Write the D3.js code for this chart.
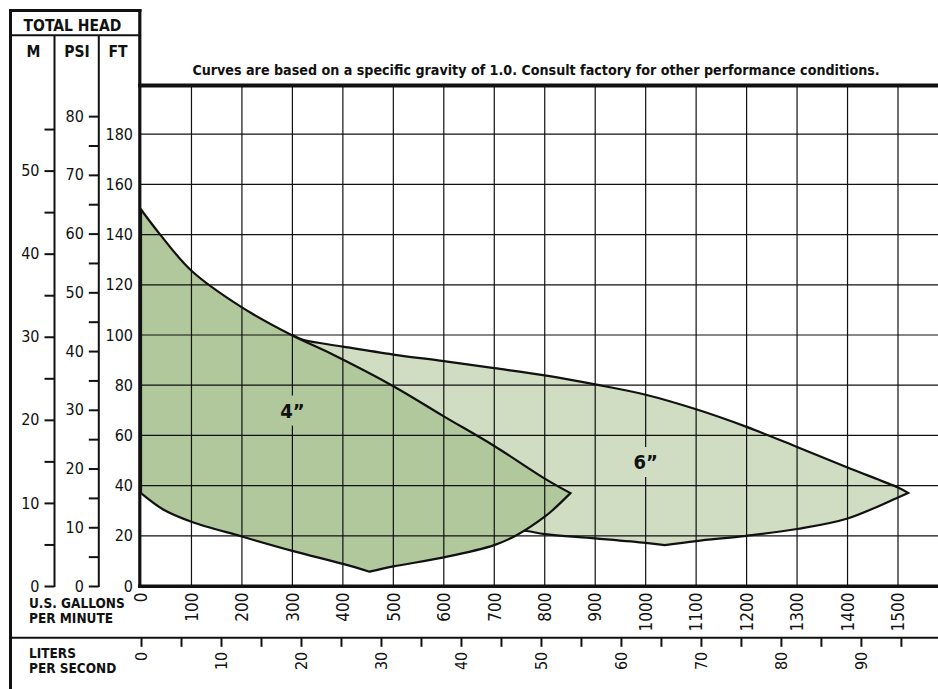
<!DOCTYPE html>
<html lang="en">
<head>
<meta charset="utf-8">
<title>Pump Performance Curves</title>
<style type="text/css">
    body {
        margin: 0;
        background: #fff;
    }
    svg {
        display: block;
    }
    text {
        font-family: 'Liberation Sans Narrow', 'DejaVu Sans';
        font-stretch: condensed;
        fill: #111;
    }
</style>
<script type="text/javascript" src="https://cdn.jsdelivr.net/npm/d3@7"></script>
</head>
<body>
<script type="text/javascript">
    /* DATA */

    var gpmTicks = [0, 100, 200, 300, 400, 500, 600, 700, 800, 900, 1000, 1100, 1200, 1300, 1400, 1500];
    var lpsTicks = [0, 5, 10, 15, 20, 25, 30, 35, 40, 45, 50, 55, 60, 65, 70, 75, 80, 85, 90, 95];
    var ftTicks = [0, 20, 40, 60, 80, 100, 120, 140, 160, 180];
    var psiTicks = [0, 5, 10, 15, 20, 25, 30, 35, 40, 45, 50, 55, 60, 65, 70, 75, 80];
    var mTicks = [0, 5, 10, 15, 20, 25, 30, 35, 40, 45, 50, 55];

    // 4" pump: [gpm, ft]
    var curve4Upper = [[0, 150], [38, 140], [100, 125.6], [200, 111], [300, 99.8],
        [374, 92.8], [500, 79.6], [600, 67.6], [700, 55.8], [800, 42.8], [851, 37]];
    var curve4LowerRight = [[851, 37], [820, 31], [800, 27.6], [745, 20.3], [700, 16.3], [600, 11.4],
        [500, 7.8], [453, 5.7]];
    var curve4LowerLeft = [[453, 5.7], [400, 8.8], [300, 14], [200, 19.7], [100, 25.6], [44, 30.5], [0, 37]];

    // 6" pump: [gpm, ft]
    var curve6Upper = [[300, 100], [321, 98.1], [400, 95.4], [500, 92.2], [600, 89.6], [700, 86.8],
        [800, 83.9], [900, 80.3], [1000, 76.2], [1100, 70.4], [1200, 63.4], [1300, 55.4],
        [1400, 47.2], [1500, 39.2], [1520, 37.1]];
    var curve6LowerRight = [[1520, 37.1], [1500, 35.3], [1400, 26.9], [1300, 22.7], [1200, 20],
        [1100, 17.9], [1038, 16.3]];
    var curve6LowerLeft = [[1038, 16.3], [1000, 17.2], [900, 19], [800, 20.7], [764, 21.9], [700, 23]];
    var curve6Hidden = [[700, 23], [400, 50], [300, 100]];

    var sizeNames = ["4\u201D", "6\u201D"];

    /* SETUP */

    var W = 938;
    var H = 689;
    var svg = d3.select("body").append("svg")
        .attr("width", W)
        .attr("height", H);

    var FT_PER_PSI = 2.34;
    var FT_PER_M = 3.31;
    var GPM_PER_LPS = 15.85;

    var x = d3.scaleLinear().domain([0, 1500]).range([141, 898]);
    var y = d3.scaleLinear().domain([0, 200]).range([586, 84]);
    var yPsi = d3.scaleLinear().domain([0, 80]).range([y(0), y(80 * FT_PER_PSI)]);
    var yM = d3.scaleLinear().domain([0, 50]).range([y(0), y(50 * FT_PER_M)]);
    var xL = d3.scaleLinear().domain([0, 90]).range([x(0), x(90 * GPM_PER_LPS)]);

    var plotTop = 85.5;
    var dark = "#b0c89b";
    var light = "#d0ddc2";

    function regionPath(pieces, close) {
        var line = d3.line()
            .x(function (d) { return x(d[0]); })
            .y(function (d) { return y(d[1]); })
            .curve(d3.curveCatmullRom.alpha(0.5));
        return pieces.map(function (p, i) {
            var s = line(p);
            return i ? "L" + s.slice(1) : s;
        }).join("") + (close ? "Z" : "");
    }

    /* CURVES */

    svg.append("path")
        .attr("d", regionPath([curve6Upper, curve6LowerRight, curve6LowerLeft, curve6Hidden], true))
        .attr("fill", light);
    svg.append("path")
        .attr("d", regionPath([curve6Upper, curve6LowerRight, curve6LowerLeft], false))
        .attr("fill", "none")
        .attr("stroke", "#111")
        .attr("stroke-width", 2.2)
        .attr("stroke-linejoin", "miter");

    svg.append("path")
        .attr("d", regionPath([curve4Upper, curve4LowerRight, curve4LowerLeft], true))
        .attr("fill", dark)
        .attr("stroke", "#111")
        .attr("stroke-width", 2.2)
        .attr("stroke-linejoin", "miter");

    /* GRID */

    svg.append("g").selectAll("line")
        .data(gpmTicks.filter(function (d) { return d > 0; }))
        .join("line")
        .attr("x1", function (d) { return x(d); })
        .attr("x2", function (d) { return x(d); })
        .attr("y1", y(0))
        .attr("y2", plotTop)
        .attr("stroke", "#111")
        .attr("stroke-width", 1.2);

    svg.append("g").selectAll("line")
        .data(ftTicks.filter(function (d) { return d > 0; }))
        .join("line")
        .attr("x1", x(0))
        .attr("x2", W)
        .attr("y1", function (d) { return y(d); })
        .attr("y2", function (d) { return y(d); })
        .attr("stroke", "#111")
        .attr("stroke-width", 1.2);

    /* SIZE LABELS */

    var labelPos = [[300, 69.9], [1000, 49.4]];
    var labelFill = [dark, light];
    sizeNames.forEach(function (name, i) {
        var cx = x(labelPos[i][0]);
        var cy = y(labelPos[i][1]);
        svg.append("rect")
            .attr("x", cx - 10)
            .attr("y", cy - 15)
            .attr("width", 20)
            .attr("height", 30)
            .attr("fill", labelFill[i]);
        svg.append("text")
            .text(name)
            .attr("x", cx)
            .attr("y", cy)
            .attr("dy", "0.36em")
            .attr("text-anchor", "middle")
            .attr("font-size", 20)
            .attr("font-weight", "bold");
    });

    /* FRAME */

    function rule(x1, y1, x2, y2, w) {
        svg.append("line")
            .attr("x1", x1).attr("y1", y1)
            .attr("x2", x2).attr("y2", y2)
            .attr("stroke", "#111")
            .attr("stroke-width", w);
    }

    rule(10.5, 9, 10.5, H, 3);          // outer left
    rule(9, 10.5, 141.5, 10.5, 3);      // header top
    rule(10, 35.3, 140, 35.3, 2);       // header separator
    rule(139.8, 9, 139.8, 588, 3.2);    // plot left / FT axis
    rule(138, plotTop, W, plotTop, 4);  // plot top
    rule(138, 586.3, W, 586.3, 3.5);    // plot bottom
    rule(54.5, 35, 54.5, 587, 2);       // M axis
    rule(98.8, 35, 98.8, 587, 2);       // PSI axis
    rule(10, 637.8, W, 637.8, 2);       // liters axis

    /* AXES */

    function styleAxis(g, size) {
        g.select(".domain").remove();
        g.attr("font-family", null).attr("font-size", size);
        g.selectAll(".tick line").attr("stroke", "#111").attr("stroke-width", 2);
        g.selectAll(".tick text").attr("fill", "#111");
    }

    var mAxis = d3.axisLeft(yM)
        .tickValues(mTicks)
        .tickSize(10)
        .tickPadding(5)
        .tickFormat(function (d) { return d % 10 ? "" : d; });
    svg.append("g")
        .attr("transform", "translate(54.5,0)")
        .call(mAxis)
        .call(styleAxis, 16);

    var psiAxis = d3.axisLeft(yPsi)
        .tickValues(psiTicks)
        .tickSize(10)
        .tickPadding(5)
        .tickFormat(function (d) { return d % 10 ? "" : d; });
    svg.append("g")
        .attr("transform", "translate(98.8,0)")
        .call(psiAxis)
        .call(styleAxis, 16);

    var ftAxis = d3.axisLeft(y)
        .tickValues(ftTicks)
        .tickSize(0)
        .tickPadding(7);
    svg.append("g")
        .attr("transform", "translate(140,0)")
        .call(ftAxis)
        .call(styleAxis, 16);

    var gpmAxis = d3.axisBottom(x)
        .tickValues(gpmTicks)
        .tickSize(0)
        .tickFormat(d3.format("d"));
    svg.append("g")
        .attr("transform", "translate(0,586)")
        .call(gpmAxis)
        .call(styleAxis, 17)
        .selectAll(".tick text")
        .attr("transform", "rotate(-90)")
        .attr("x", -6.5)
        .attr("y", 0)
        .attr("dy", "0.34em")
        .attr("text-anchor", "end");

    var lpsAxis = d3.axisBottom(xL)
        .tickValues(lpsTicks)
        .tickSize(9)
        .tickFormat(function (d) { return d % 10 ? "" : d; });
    svg.append("g")
        .attr("transform", "translate(0,637.8)")
        .call(lpsAxis)
        .call(styleAxis, 16)
        .selectAll(".tick text")
        .attr("transform", "rotate(-90)")
        .attr("x", -14)
        .attr("y", 0)
        .attr("dy", "0.34em")
        .attr("text-anchor", "end");

    /* HEADINGS */

    function heading(str, hx, hy, size, anchor) {
        return svg.append("text")
            .text(str)
            .attr("x", hx)
            .attr("y", hy)
            .attr("font-size", size)
            .attr("font-weight", "bold")
            .attr("text-anchor", anchor || "start");
    }

    heading("TOTAL HEAD", 72.5, 30.5, 15.5, "middle");
    heading("M", 33.5, 56.5, 15.5, "middle");
    heading("PSI", 77, 56.5, 15.5, "middle");
    heading("FT", 118, 56.5, 15.5, "middle");

    heading("U.S. GALLONS", 29, 608, 13.5);
    heading("PER MINUTE", 29, 622.5, 13.5);
    heading("LITERS", 29, 658, 13.5);
    heading("PER SECOND", 29, 672.5, 13.5);

    // title: size it so it spans the same width as in the original
    var title = heading("Curves are based on a specific gravity of 1.0. Consult factory for other performance conditions.",
        536, 75, 16, "middle");
    var tw = title.node().getComputedTextLength();
    title.attr("font-size", 16 * 688 / tw);
</script>
</body>
</html>
